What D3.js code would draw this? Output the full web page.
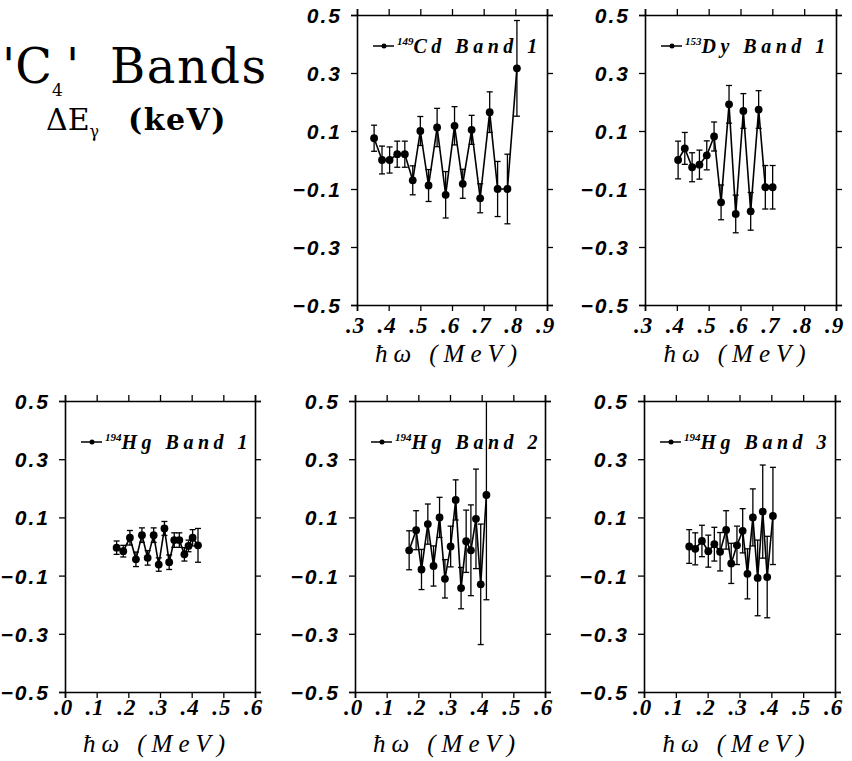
<!DOCTYPE html>
<html>
<head>
<meta charset="utf-8">
<script src="https://cdn.jsdelivr.net/npm/d3@7"></script>
<style>
  body { margin: 0; background: #fff; }
  svg { display: block; }
</style>
</head>
<body>
<div id="chart"></div>
<script>
// ---- data ----
// 149Cd band 1
var cdW   = [0.354, 0.379, 0.403, 0.427, 0.451, 0.476, 0.500, 0.526, 0.553, 0.580, 0.608, 0.634, 0.662, 0.689, 0.719, 0.744, 0.775, 0.805];
var cdDE  = [0.075, 0.000, 0.000, 0.020, 0.020, -0.070, 0.100, -0.088, 0.112, -0.120, 0.118, -0.082, 0.104, -0.132, 0.165, -0.100, -0.100, 0.316];
var cdErr = [0.045, 0.048, 0.045, 0.045, 0.045, 0.050, 0.050, 0.055, 0.066, 0.080, 0.066, 0.050, 0.050, 0.050, 0.070, 0.095, 0.120, 0.165];

// 153Dy band 1
var dyW   = [0.404, 0.425, 0.448, 0.471, 0.494, 0.517, 0.539, 0.564, 0.585, 0.609, 0.632, 0.657, 0.678, 0.701];
var dyDE  = [0.000, 0.040, -0.025, -0.016, 0.016, 0.081, -0.146, 0.192, -0.186, 0.169, -0.177, 0.174, -0.094, -0.094];
var dyErr = [0.065, 0.055, 0.050, 0.050, 0.050, 0.050, 0.060, 0.065, 0.065, 0.060, 0.065, 0.065, 0.075, 0.075];

// 194Hg band 1
var hg1W   = [0.163, 0.184, 0.205, 0.224, 0.243, 0.261, 0.280, 0.296, 0.314, 0.329, 0.345, 0.361, 0.377, 0.390, 0.403, 0.420];
var hg1DE  = [-0.004, -0.016, 0.030, -0.044, 0.039, -0.039, 0.039, -0.062, 0.062, -0.054, 0.022, 0.022, -0.027, 0.002, 0.030, 0.004];
var hg1Err = [0.023, 0.020, 0.025, 0.025, 0.025, 0.025, 0.025, 0.023, 0.024, 0.025, 0.025, 0.025, 0.023, 0.020, 0.028, 0.058];

// 194Hg band 2
var hg2W   = [0.171, 0.193, 0.210, 0.230, 0.248, 0.267, 0.284, 0.302, 0.318, 0.335, 0.351, 0.366, 0.382, 0.397, 0.415];
var hg2DE  = [-0.013, 0.056, -0.079, 0.077, -0.067, 0.100, -0.111, 0.000, 0.160, -0.143, 0.018, -0.013, 0.095, -0.130, 0.177];
var hg2Err = [0.067, 0.067, 0.069, 0.069, 0.069, 0.069, 0.066, 0.070, 0.069, 0.071, 0.107, 0.156, 0.171, 0.207, 0.360];

// 194Hg band 3
var hg3W   = [0.142, 0.161, 0.182, 0.202, 0.221, 0.239, 0.258, 0.274, 0.292, 0.310, 0.325, 0.342, 0.357, 0.373, 0.387, 0.405];
var hg3DE  = [0.000, -0.008, 0.019, -0.016, 0.008, -0.018, 0.057, -0.058, 0.004, 0.054, -0.094, 0.100, -0.108, 0.120, -0.105, 0.105];
var hg3Err = [0.058, 0.055, 0.054, 0.055, 0.058, 0.066, 0.066, 0.069, 0.066, 0.076, 0.086, 0.098, 0.130, 0.160, 0.140, 0.167];

var yTicks = [0.5, 0.3, 0.1, -0.1, -0.3, -0.5];
var xTicksTop = [0.3, 0.4, 0.5, 0.6, 0.7, 0.8, 0.9];
var xTicksBottom = [0.0, 0.1, 0.2, 0.3, 0.4, 0.5, 0.6];

// ---- layout ----
var width = 852, height = 761;

var svg = d3.select("#chart")
    .append("svg")
    .attr("width", width)
    .attr("height", height)
    .style("background", "#fff");

var rows = {
    top:    { top: 15,  bottom: 305, labelY: 28, titleY: 57, legY: 31 },
    bottom: { top: 401, bottom: 692, labelY: 23, titleY: 60, legY: 41 }
};

var panels = [
    { mass: "149", el: "Cd", band: "1", w: cdW,  de: cdDE,  err: cdErr,  xt: xTicksTop,    left: 357, right: 547, row: rows.top },
    { mass: "153", el: "Dy", band: "1", w: dyW,  de: dyDE,  err: dyErr,  xt: xTicksTop,    left: 645, right: 836, row: rows.top },
    { mass: "194", el: "Hg", band: "1", w: hg1W, de: hg1DE, err: hg1Err, xt: xTicksBottom, left: 65,  right: 255, row: rows.bottom },
    { mass: "194", el: "Hg", band: "2", w: hg2W, de: hg2DE, err: hg2Err, xt: xTicksBottom, left: 355, right: 545, row: rows.bottom },
    { mass: "194", el: "Hg", band: "3", w: hg3W, de: hg3DE, err: hg3Err, xt: xTicksBottom, left: 644, right: 835, row: rows.bottom }
];

var fmt = d3.format(".1f");

panels.forEach(function(p) {
    var r = p.row;
    var x = d3.scaleLinear().domain([p.xt[0], p.xt[p.xt.length - 1]]).range([p.left, p.right]);
    var y = d3.scaleLinear().domain([-0.5, 0.5]).range([r.bottom, r.top]);
    var g = svg.append("g");

    // frame + ticks
    g.append("g")
        .attr("transform", `translate(${p.left},0)`)
        .call(d3.axisLeft(y).tickValues(yTicks).tickSize(6).tickPadding(9).tickFormat(fmt))
        .call(function(a) {
            a.selectAll("text")
                .style("font-family", "'Liberation Sans', Arial, sans-serif")
                .style("font-style", "italic")
                .style("font-weight", "bold")
                .style("font-size", "21px")
                .style("letter-spacing", "2px")
                .attr("dy", "0.36em");
        });
    g.append("g")
        .attr("transform", `translate(${p.right},0)`)
        .call(d3.axisRight(y).tickValues(yTicks).tickSize(6).tickFormat(""));
    g.append("g")
        .attr("transform", `translate(0,${r.top})`)
        .call(d3.axisTop(x).tickValues(p.xt).tickSize(6).tickFormat(""));
    g.append("g")
        .attr("transform", `translate(0,${r.bottom})`)
        .call(d3.axisBottom(x).tickValues(p.xt).tickSize(6).tickPadding(0)
            .tickFormat(function(d) { return fmt(d).replace(/^0/, ""); }))
        .call(function(a) {
            a.selectAll("text")
                .attr("y", r.labelY)
                .attr("dy", 0)
                .attr("x", -2)
                .style("font-family", "'Liberation Serif', 'Times New Roman', serif")
                .style("font-style", "italic")
                .style("font-weight", "bold")
                .style("font-size", "23px")
                .style("letter-spacing", "1px");
        });
    g.selectAll(".domain").attr("stroke-width", 1.6);
    g.selectAll(".tick line").attr("stroke-width", 1.3);

    // x axis title
    var xt = g.append("text")
        .attr("x", (p.left + p.right) / 2 - 3)
        .attr("y", r.bottom + r.titleY)
        .attr("text-anchor", "middle")
        .style("font-family", "'Liberation Serif', 'Times New Roman', serif")
        .style("font-style", "italic")
        .style("font-size", "25px")
        .style("letter-spacing", "6px");
    xt.append("tspan").text("ħω ");
    xt.append("tspan").text("(MeV)");

    // legend
    var ly = r.top + r.legY;
    g.append("line")
        .attr("x1", p.left + 16).attr("x2", p.left + 37)
        .attr("y1", ly).attr("y2", ly)
        .attr("stroke", "#000").attr("stroke-width", 1.5);
    g.append("circle")
        .attr("cx", p.left + 27).attr("cy", ly).attr("r", 2.5);
    var lt = g.append("text")
        .attr("x", p.left + 40)
        .attr("y", ly + 7)
        .style("font-family", "'Liberation Serif', 'Times New Roman', serif")
        .style("font-style", "italic")
        .style("font-weight", "bold")
        .style("font-size", "20px")
        .style("letter-spacing", "4.5px");
    lt.append("tspan").text(p.mass)
        .style("font-size", "11px").style("letter-spacing", "0px").attr("dy", -8);
    lt.append("tspan").text(p.el).attr("dy", 8);
    lt.append("tspan").text(" Band " + p.band);

    // data
    var pts = p.w.map(function(w, i) { return { w: w, v: p.de[i], e: p.err[i] }; });
    var clampY = function(v) { return Math.max(r.top, Math.min(r.bottom, y(v))); };

    g.append("path")
        .datum(pts)
        .attr("fill", "none")
        .attr("stroke", "#000")
        .attr("stroke-width", 1.6)
        .attr("d", d3.line().x(function(d) { return x(d.w); }).y(function(d) { return y(d.v); }));

    var eb = g.selectAll(".err").data(pts).enter().append("g").attr("class", "err")
        .attr("stroke", "#000").attr("stroke-width", 1.3);
    eb.append("line")
        .attr("x1", function(d) { return x(d.w); }).attr("x2", function(d) { return x(d.w); })
        .attr("y1", function(d) { return clampY(d.v + d.e); })
        .attr("y2", function(d) { return clampY(d.v - d.e); });
    eb.filter(function(d) { return y(d.v + d.e) > r.top; }).append("line")
        .attr("x1", function(d) { return x(d.w) - 3; }).attr("x2", function(d) { return x(d.w) + 3; })
        .attr("y1", function(d) { return y(d.v + d.e); }).attr("y2", function(d) { return y(d.v + d.e); });
    eb.filter(function(d) { return y(d.v - d.e) < r.bottom; }).append("line")
        .attr("x1", function(d) { return x(d.w) - 3; }).attr("x2", function(d) { return x(d.w) + 3; })
        .attr("y1", function(d) { return y(d.v - d.e); }).attr("y2", function(d) { return y(d.v - d.e); });

    g.selectAll(".pt").data(pts).enter().append("circle")
        .attr("class", "pt")
        .attr("cx", function(d) { return x(d.w); })
        .attr("cy", function(d) { return y(d.v); })
        .attr("r", 3.9);
});

// figure title
var titleFont = "'DejaVu Serif', serif";
svg.append("text").attr("x", 2).attr("y", 83)
    .style("font-family", titleFont).style("font-size", "48px")
    .text("'C");
svg.append("text").attr("x", 52).attr("y", 96)
    .style("font-family", titleFont).style("font-size", "17px")
    .text("4");
svg.append("text").attr("x", 66).attr("y", 83)
    .style("font-family", titleFont).style("font-size", "48px")
    .text("'");
svg.append("text").attr("x", 110).attr("y", 83)
    .style("font-family", titleFont).style("font-size", "48px")
    .style("letter-spacing", "1.5px")
    .text("Bands");

var t2 = svg.append("text")
    .attr("x", 46).attr("y", 130)
    .style("font-family", titleFont)
    .style("font-size", "30px");
t2.append("tspan").text("ΔE");
t2.append("tspan").text("γ").attr("dy", 7).style("font-size", "16px");
t2.append("tspan").text("(keV)").attr("x", 128).attr("dy", -7)
    .style("font-weight", "bold").style("letter-spacing", "1.5px");
</script>
</body>
</html>
